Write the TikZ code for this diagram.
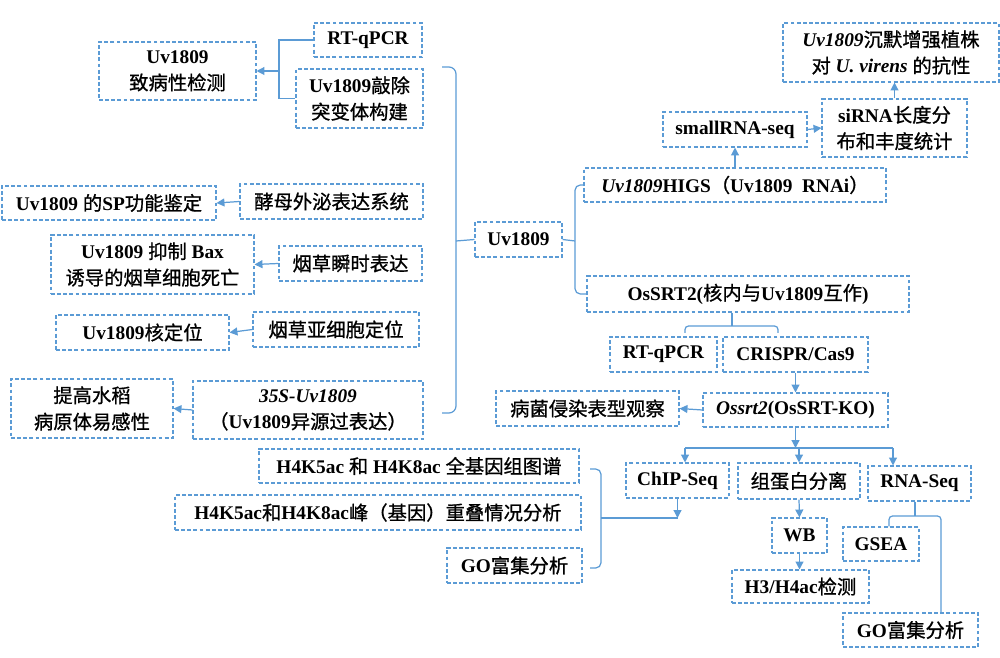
\documentclass[tikz,border=0pt]{standalone}
\usepackage{fontspec}
\setmainfont{Liberation Serif}
\newfontfamily\cjk{Noto Sans CJK SC}[FakeBold=0.9]
\newcommand\zh[1]{{\cjk\mdseries #1}}
\usepackage{tikz}
\usetikzlibrary{arrows.meta}
\newlength\px
\setlength\px{0.02cm}
\definecolor{boxblue}{RGB}{91,155,213}

\begin{document}
\begin{tikzpicture}[x=0.02cm, y=-0.02cm,
		box/.style={draw=boxblue, line width=0.6pt, dash pattern=on 2.2pt off 1.3pt, inner sep=0pt, align=center, font=\fontsize{11}{15}\selectfont\bfseries},
		sz/.style 2 args={minimum width=#1\px, minimum height=#2\px},
		link/.style={draw=boxblue, line width=0.7pt},
		arr/.style={link, arrows={-Triangle[length=4.5pt, width=4.5pt]}}]
		\useasboundingbox (0,0) rectangle (1000,658);

		\node[box, sz={157}{58}] (patho) at (177.5,71) {Uv1809\\\zh{致病性检测}};
		\node[box, sz={108}{34}] (rtqa) at (368,40) {RT-qPCR};
		\node[box, sz={127}{59}] (komut) at (359.5,98.5) {Uv1809\zh{敲除}\\\zh{突变体构建}};
		\node[box, sz={214}{34}] (spfun) at (109,203) {Uv1809 \zh{的}SP\zh{功能鉴定}};
		\node[box, sz={183}{35}] (yeast) at (331.5,201.5) {\zh{酵母外泌表达系统}};
		\node[box, sz={203}{59}] (bax) at (152.5,264.5) {Uv1809 \zh{抑制} Bax\\\zh{诱导的烟草细胞死亡}};
		\node[box, sz={143}{35}] (tobtr) at (350.5,263.5) {\zh{烟草瞬时表达}};
		\node[box, sz={173}{35}] (nucloc) at (142.5,332.5) {Uv1809\zh{核定位}};
		\node[box, sz={166}{35}] (subloc) at (336,329.5) {\zh{烟草亚细胞定位}};
		\node[box, sz={162}{59}] (suscep) at (92,408.5) {\zh{提高水稻}\\\zh{病原体易感性}};
		\node[box, sz={230}{58}] (oe35s) at (308,410) {\textit{35S-Uv1809}\\\zh{（}Uv1809\zh{异源过表达）}};
		\node[box, sz={87}{35}] (uv) at (518.5,239.5) {Uv1809};

		\node[box, sz={302}{34}] (higs) at (735,185) {\textit{Uv1809}HIGS\zh{（}Uv1809\ \ RNAi\zh{）}};
		\node[box, sz={144}{35}] (srna) at (735,129.5) {smallRNA-seq};
		\node[box, sz={145}{58}] (sirna) at (894.5,128) {siRNA\zh{长度分}\\\zh{布和丰度统计}};
		\node[box, sz={216}{59}] (silres) at (891,52.5) {\textit{Uv1809}\zh{沉默增强植株}\\\zh{对} \textit{U. virens} \zh{的抗性}};
		\node[box, sz={322}{36}] (ossrt) at (748,294) {OsSRT2(\zh{核内与}Uv1809\zh{互作})};
		\node[box, sz={107}{35}] (rtqb) at (663.5,354.5) {RT-qPCR};
		\node[box, sz={145}{35}] (crispr) at (795.5,354.5) {CRISPR/Cas9};
		\node[box, sz={185}{34}] (ko) at (795.5,410) {\textit{Ossrt2}(OsSRT-KO)};
		\node[box, sz={183}{35}] (infect) at (587.5,408.5) {\zh{病菌侵染表型观察}};
		\node[box, sz={103}{35}] (chip) at (677.5,480.5) {ChIP-Seq};
		\node[box, sz={122}{36}] (hist) at (799,481) {\zh{组蛋白分离}};
		\node[box, sz={103}{35}] (rnaseq) at (919.5,483.5) {RNA-Seq};
		\node[box, sz={55}{35}] (wb) at (799.5,535.5) {WB};
		\node[box, sz={137}{33}] (h3h4) at (800.5,586.5) {H3/H4ac\zh{检测}};
		\node[box, sz={76}{34}] (gsea) at (881,544) {GSEA};
		\node[box, sz={135}{34}] (gob) at (910.5,630) {GO\zh{富集分析}};
		\node[box, sz={320}{34}] (map) at (419,466) {H4K5ac \zh{和} H4K8ac \zh{全基因组图谱}};
		\node[box, sz={406}{35}] (overlap) at (378,512.5) {H4K5ac\zh{和}H4K8ac\zh{峰（基因）重叠情况分析}};
		\node[box, sz={135}{35}] (goa) at (514.5,565.5) {GO\zh{富集分析}};

		\coordinate (pj) at (279,71);
		\draw[link] (rtqa.west) -| (pj) |- (komut.west);
		\draw[arr] (pj) -- (patho.east);
		\draw[arr] (yeast.west) -- (spfun.east);
		\draw[arr] (tobtr.west) -- (bax.east);
		\draw[arr] (subloc.west) -- (nucloc.east);
		\draw[arr] (oe35s.west) -- (suscep.east);

		\coordinate (lbt) at (442,67);
		\coordinate (lbb) at (442,413);
		\coordinate (lbm) at (456,241);
		\draw[link, rounded corners=4] (lbt) -| (lbm) |- (lbb);
		\draw[link] (lbm) -- (uv.west);

		\coordinate (rbm) at (575,241);
		\draw[link] (uv.east) -- (rbm);
		\draw[link, rounded corners=3] (higs.west) -| (rbm) |- (ossrt.west);
		\draw[arr] (higs.north) -- (srna.south);
		\draw[arr] (srna.east) -- (sirna.west);
		\draw[arr] (sirna.north) -- (sirna.north |- silres.south);

		\coordinate (oj) at (732,326);
		\coordinate (ol) at (685,333);
		\coordinate (or) at (778,333);
		\draw[link] (oj |- ossrt.south) -- (oj);
		\draw[link, rounded corners=2] (ol) |- (oj) -| (or);
		\draw[arr] (crispr.south) -- (ko.north);
		\draw[arr] (ko.west) -- (infect.east);

		\coordinate (kj) at (795.5,448);
		\coordinate (kl) at (685,448);
		\coordinate (kr) at (893,448);
		\draw[arr] (ko.south) -- (kj);
		\draw[link] (kl) -- (kr);
		\draw[arr] (kl) -- (kl |- chip.north);
		\draw[arr] (hist.north |- kj) -- (hist.north);
		\draw[arr] (kr) -- (kr |- rnaseq.north);

		\coordinate (cj) at (677.5,518);
		\coordinate (cm) at (601,518);
		\coordinate (ct) at (590,469);
		\coordinate (cb) at (590,568);
		\draw[arr] (chip.south) -- (cj);
		\draw[link] (cm) -- (cj);
		\draw[link, rounded corners=3] (ct) -| (cm) |- (cb);

		\draw[arr] (hist.south) -- (wb.north);
		\draw[arr] (wb.south) -- (wb.south |- h3h4.north);

		\coordinate (rj) at (915,516);
		\coordinate (rl) at (889,516);
		\coordinate (rr) at (941,516);
		\draw[link] (rj |- rnaseq.south) -- (rj);
		\draw[link, rounded corners=2] (rl |- gsea.north) |- (rr) -- (rr |- gob.north);

	\end{tikzpicture}
\end{document}
